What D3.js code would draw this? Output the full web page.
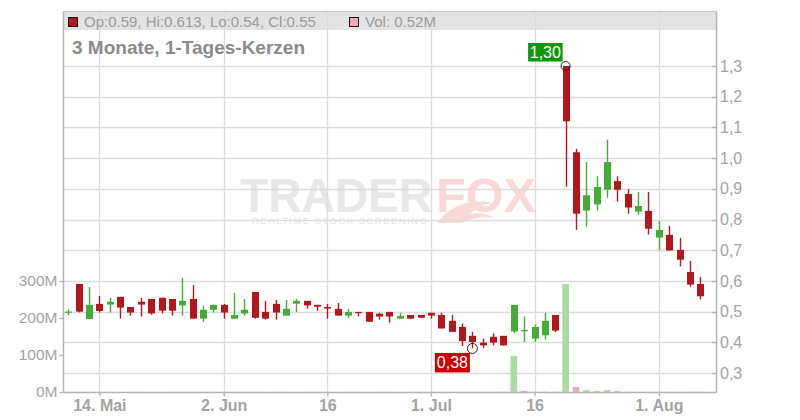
<!DOCTYPE html>
<html><head><meta charset="utf-8">
<script src="https://cdn.jsdelivr.net/npm/d3@7"></script>
<style>html,body{margin:0;padding:0;background:#fff;}svg{display:block;font-family:"Liberation Sans",Arial,sans-serif;}</style>
</head><body>
<svg id="c" width="800" height="420"></svg>
<script>
// ---- data ----
const opens  = [.497,.590,.476,.525,.523,.548,.515,.532,.541,.545,.541,.520,.541,.477,.506,.522,.477,.494,.564,.499,.525,.487,.526,.535,.522,.515,.509,.487,.499,.499,.493,.499,.477,.489,.489,.496,.489,.470,.450,.421,.399,.418,.421,.435,.436,.412,.423,.489,1.30,1.019,.829,.849,.897,.925,.883,.826,.828,.741,.750,.701,.629,.590];
const highs  = [.507,.590,.580,.551,.545,.548,.515,.545,.541,.545,.541,.610,.587,.519,.522,.525,.561,.541,.564,.535,.538,.538,.541,.535,.522,.525,.528,.509,.499,.499,.496,.499,.496,.489,.489,.496,.496,.489,.461,.434,.412,.429,.421,.522,.484,.457,.496,.489,1.30,1.030,.987,.941,1.060,.941,.899,.890,.890,.795,.779,.740,.665,.613];
const lows   = [.488,.497,.476,.497,.497,.477,.487,.484,.490,.494,.487,.487,.477,.467,.497,.477,.477,.487,.477,.474,.474,.487,.499,.510,.503,.477,.487,.480,.484,.467,.474,.464,.477,.477,.480,.477,.445,.434,.388,.380,.381,.390,.389,.429,.401,.401,.409,.434,.907,.766,.777,.829,.871,.858,.819,.816,.751,.700,.699,.647,.581,.540];
const closes = [.500,.500,.522,.502,.532,.513,.497,.523,.494,.503,.503,.535,.477,.506,.522,.497,.489,.506,.480,.477,.497,.509,.535,.520,.516,.510,.487,.499,.497,.467,.484,.484,.486,.477,.480,.487,.445,.434,.404,.401,.390,.399,.390,.522,.440,.450,.470,.438,1.12,.819,.879,.906,.987,.897,.839,.844,.770,.766,.699,.669,.588,.550];
// volume in millions
const volumes = [.4,.5,.4,.3,.4,.3,.3,.4,.3,.3,.3,.5,.4,.3,.3,.3,.4,.3,.4,.3,.3,.3,.3,.3,.3,.3,.3,.3,.3,.3,.3,.3,.3,.3,.3,.3,.4,.4,.5,.6,.4,.4,.4,97,3,.6,.8,.6,292,13.5,5,2.5,5,2.5,.8,.6,.7,.6,.6,.6,.6,.52];
const tickIdx = [3,15,25,35,45,57];
const tickLabels = ["14. Mai","2. Jun","16","1. Jul","16","1. Aug"];
const priceTicks = [0.3,0.4,0.5,0.6,0.7,0.8,0.9,1.0,1.1,1.2,1.3];
const volTicks = [0,100,200,300];
const title = "3 Monate, 1-Tages-Kerzen";
const ohlcText = "Op:0.59, Hi:0.613, Lo:0.54, Cl:0.55";
const volText = "Vol: 0.52M";
const maxLabel = "1,30", minLabel = "0,38";

// ---- layout ----
const L = 63.5, R = 716.5, T = 11.5, B = 392.5;
const svg = d3.select("#c");
const n = closes.length;
const x = d3.scaleLinear().domain([0, n - 1]).range([68.3, 700.3]);
const y = d3.scaleLinear().domain([0.3, 1.3]).range([373, 66]);
const yv = d3.scaleLinear().domain([0, 300]).range([392, 281]);
const RED = "#b3161b", GREEN = "#45ab36", VRED = "#f0a9b1", VGREEN = "#a9dca2";
const GRID = "#dcdcdc", AX = "#b4b4b4", TXT = "#a3a3a3";
const bw = 7;

// watermark
const wm = svg.append("g").attr("class", "watermark");
wm.append("text").attr("x", 240).attr("y", 212).attr("font-size", 48).attr("font-weight", "bold")
  .attr("textLength", 192).attr("lengthAdjust", "spacingAndGlyphs").attr("fill", "#e8e8e8").text("TRADER");
wm.append("text").attr("x", 436).attr("y", 212).attr("font-size", 48).attr("font-weight", "bold")
  .attr("textLength", 100).attr("lengthAdjust", "spacingAndGlyphs").attr("fill", "#fcd8d8").text("FOX");
wm.append("text").attr("x", 252).attr("y", 223.5).attr("font-size", 9.5)
  .attr("textLength", 175).attr("lengthAdjust", "spacing").attr("fill", "#e4e4e4").text("REALTIME STOCK SCREENING");
wm.append("path").attr("d", "M437,223 C450,206 468,198 492,203 C480,205 474,210 470,214 C480,212 488,214 494,218 C480,216 470,219 462,223 Z")
  .attr("fill", "#fcd9d9");

// header band
svg.append("rect").attr("x", L).attr("y", T).attr("width", R - L).attr("height", 18.5).attr("fill", "#e3e3e3");

// gridlines
svg.append("g").selectAll("line").data(priceTicks).join("line")
  .attr("x1", L).attr("x2", R).attr("y1", d => Math.round(y(d)) + 0.5).attr("y2", d => Math.round(y(d)) + 0.5)
  .attr("stroke", GRID).attr("stroke-width", 1.3);
svg.append("g").selectAll("line").data(tickIdx).join("line")
  .attr("y1", T).attr("y2", B).attr("x1", d => Math.round(x(d)) + 0.5).attr("x2", d => Math.round(x(d)) + 0.5)
  .attr("stroke", GRID).attr("stroke-width", 1.3);

// frame lines
svg.append("line").attr("x1", L).attr("x2", R).attr("y1", T).attr("y2", T).attr("stroke", "#c4c4c4");
svg.append("line").attr("x1", L).attr("x2", L).attr("y1", T).attr("y2", B).attr("stroke", AX).attr("stroke-width", 1.5);
svg.append("line").attr("x1", R).attr("x2", R).attr("y1", T).attr("y2", B).attr("stroke", AX).attr("stroke-width", 1.5);
svg.append("line").attr("x1", L).attr("x2", R).attr("y1", B).attr("y2", B).attr("stroke", AX).attr("stroke-width", 1.5);

// header content
svg.append("rect").attr("x", 68.5).attr("y", 17.5).attr("width", 9).attr("height", 9).attr("fill", RED).attr("stroke", "#111");
svg.append("text").attr("x", 84).attr("y", 26.5).attr("font-size", 15).attr("fill", "#9a9a9a").text(ohlcText);
svg.append("rect").attr("x", 349.5).attr("y", 17.5).attr("width", 9).attr("height", 9).attr("fill", VRED).attr("stroke", "#111");
svg.append("text").attr("x", 365).attr("y", 26.5).attr("font-size", 15).attr("fill", "#9a9a9a").text(volText);
svg.append("text").attr("x", 72).attr("y", 54).attr("font-size", 19).attr("font-weight", "bold").attr("fill", "#8a8a8a").text(title);

// volume bars
svg.append("g").selectAll("rect").data(volumes).join("rect")
  .attr("x", (d, i) => x(i) - 3.3).attr("width", 6.6)
  .attr("y", d => yv(d)).attr("height", d => yv(0) - yv(d))
  .attr("fill", (d, i) => (i > 0 && closes[i] < closes[i - 1]) ? VRED : VGREEN);

// candles
const cg = svg.append("g");
d3.range(n).forEach(i => {
  const up = closes[i] >= opens[i];
  const col = up ? GREEN : RED;
  const cx = Math.round(x(i)) + 0.5;
  cg.append("line").attr("x1", cx).attr("x2", cx).attr("y1", y(highs[i])).attr("y2", y(lows[i]))
    .attr("stroke", col).attr("stroke-width", 1.4);
  const top = y(Math.max(opens[i], closes[i])), bot = y(Math.min(opens[i], closes[i]));
  cg.append("rect").attr("x", cx - bw / 2).attr("width", bw).attr("y", top).attr("height", Math.max(1.2, bot - top))
    .attr("fill", col);
});

// axes
const rightAxis = d3.axisRight(y).tickValues(priceTicks).tickSize(0).tickFormat(d => d3.format(".1f")(d).replace(".", ","));
const ra = svg.append("g").attr("transform", `translate(${R},0)`).call(rightAxis);
ra.select(".domain").remove();
ra.selectAll("text").attr("x", 3.5).attr("font-size", 16).attr("fill", TXT).attr("font-family", "Liberation Sans, Arial, sans-serif");
svg.append("g").selectAll("line").data(priceTicks).join("line")
  .attr("x1", R - 4.5).attr("x2", R).attr("y1", d => Math.round(y(d)) + 0.5).attr("y2", d => Math.round(y(d)) + 0.5).attr("stroke", AX).attr("stroke-width", 1.3);

const leftAxis = d3.axisLeft(yv).tickValues(volTicks).tickSize(4).tickPadding(2).tickFormat(d => d + "M");
const la = svg.append("g").attr("transform", `translate(${L},0)`).call(leftAxis);
la.select(".domain").remove();
la.selectAll("line").attr("stroke", AX).attr("stroke-width", 1.3);
la.selectAll("text").attr("font-size", 15.5).attr("fill", TXT).attr("font-family", "Liberation Sans, Arial, sans-serif");

const bottomAxis = d3.axisBottom(x).tickValues(tickIdx).tickSize(4).tickPadding(3).tickFormat((d, i) => tickLabels[i]);
const ba = svg.append("g").attr("transform", `translate(0,${B})`).call(bottomAxis);
ba.select(".domain").remove();
ba.selectAll("line").attr("stroke", AX).attr("stroke-width", 1.3);
ba.selectAll("text").attr("font-size", 16).attr("font-weight", "bold").attr("fill", TXT).attr("font-family", "Liberation Sans, Arial, sans-serif");

// max / min annotations
const iMax = d3.maxIndex(highs), iMin = d3.minIndex(lows);
const ann = svg.append("g");
ann.append("rect").attr("x", x(iMax) - 37.5).attr("y", y(highs[iMax]) - 23).attr("width", 34.5).attr("height", 18.5).attr("fill", "#0a990a");
ann.append("text").attr("x", x(iMax) - 20.3).attr("y", y(highs[iMax]) - 8.5).attr("text-anchor", "middle").attr("font-size", 16).attr("fill", "#fff").text(maxLabel);
ann.append("circle").attr("cx", x(iMax)).attr("cy", y(highs[iMax])).attr("r", 4.5).attr("fill", "none").attr("stroke", "#222").attr("stroke-width", 1);
ann.append("rect").attr("x", x(iMin) - 37.5).attr("y", y(lows[iMin]) + 4.5).attr("width", 35).attr("height", 19.5).attr("fill", "#cc0000");
ann.append("text").attr("x", x(iMin) - 20).attr("y", y(lows[iMin]) + 20).attr("text-anchor", "middle").attr("font-size", 16).attr("fill", "#fff").text(minLabel);
ann.append("circle").attr("cx", x(iMin)).attr("cy", y(lows[iMin])).attr("r", 5).attr("fill", "none").attr("stroke", "#222").attr("stroke-width", 1);
</script>
</body></html>
